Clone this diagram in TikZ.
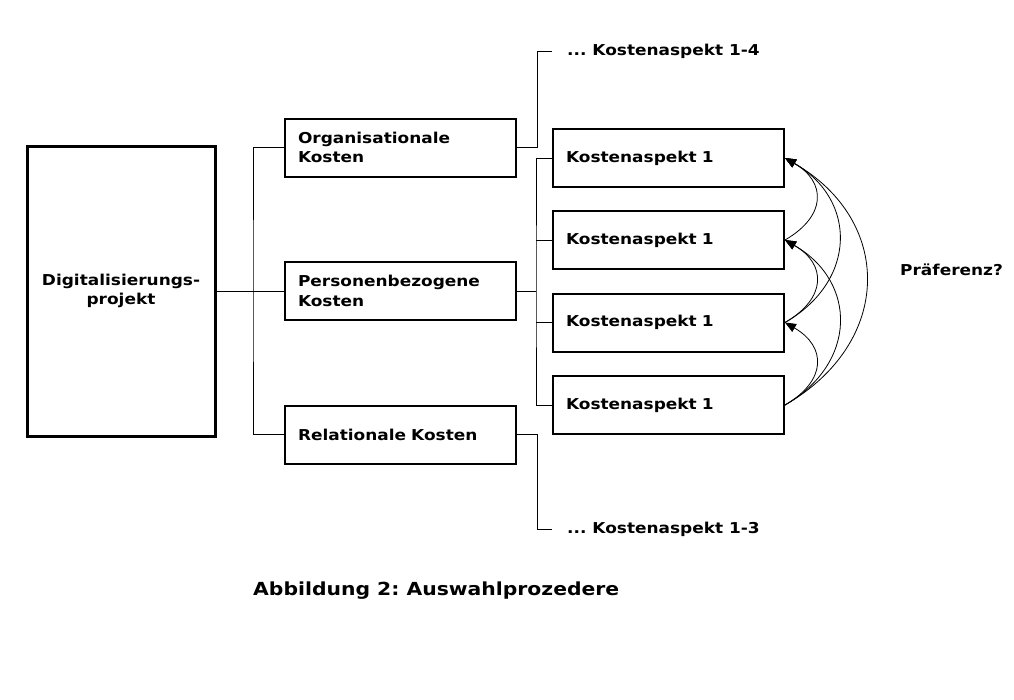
\documentclass[tikz,border=0pt]{standalone}
\usepackage{fontspec}
\setmainfont{DejaVu Sans}[FakeStretch=1.13]
\frenchspacing
\usetikzlibrary{arrows.meta,positioning}

\begin{document}
\begin{tikzpicture}[x=1pt, y=-1pt, font=\fontsize{15}{19.5}\selectfont\bfseries,
    box/.style={draw, line width=2pt, minimum width=231, minimum height=58, text width=205, align=left, inner xsep=13},
    bigbox/.style={draw, line width=3pt, minimum width=188, minimum height=290, align=center},
    more/.style={anchor=west, inner xsep=15},
    link/.style={line width=0.8pt},
    pref/.style={-{Triangle[length=11pt,width=9pt]}, line width=0.8pt, bend right=60}]
  \useasboundingbox (0,0) rectangle (1014,699);
  \node[bigbox] (dig) at (121,291) {Digitalisierungs-\\projekt};
  \node[box] (org) at (400.5,147.5) {Organisationale\\Kosten};
  \node[box] (pers) at (400.5,291) {Personenbezogene\\Kosten};
  \node[box] (rel) at (400.5,434.5) {Relationale Kosten};
  \foreach \n/\y in {1/158, 2/240, 3/322.5, 4/405} {
    \node[box] (k\n) at (668.5,\y) {Kostenaspekt 1};
  }
  \node[more] (more1) at (552,51) {... Kostenaspekt 1-4};
  \node[more] (more2) at (552,529) {... Kostenaspekt 1-3};
  \node[anchor=west, inner sep=0] (praef) at (900,270) {Präferenz?};
  \node[anchor=west, inner sep=0, font=\fontsize{18}{22}\selectfont\bfseries] (cap) at (253,591) {Abbildung 2: Auswahlprozedere};
  % verbindungen
  \coordinate (jl) at (253,291);
  \coordinate (jr) at (536,291);
  \draw[link] (dig.east) -- (pers.west);
  \draw[link] (org.west) -| (jl) |- (rel.west);
  \draw[link] (pers.east) -- (jr);
  \draw[link] (k1.west) -| (jr) |- (k4.west);
  \draw[link] (k2.west) -- (k2.west -| jr);
  \draw[link] (k3.west) -- (k3.west -| jr);
  \draw[link] (org.east) -- ++(20,0) |- (more1.west);
  \draw[link] (rel.east) -- ++(20,0) |- (more2.west);
  % praeferenzen
  \foreach \a/\b/\l in {k2/k1/1.5, k3/k2/1.5, k4/k3/1.5, k3/k1/1.3, k4/k2/1.3, k4/k1/1.3} {
    \draw[pref, looseness=\l] (\a.east) to (\b.east);
  }
\end{tikzpicture}
\end{document}
